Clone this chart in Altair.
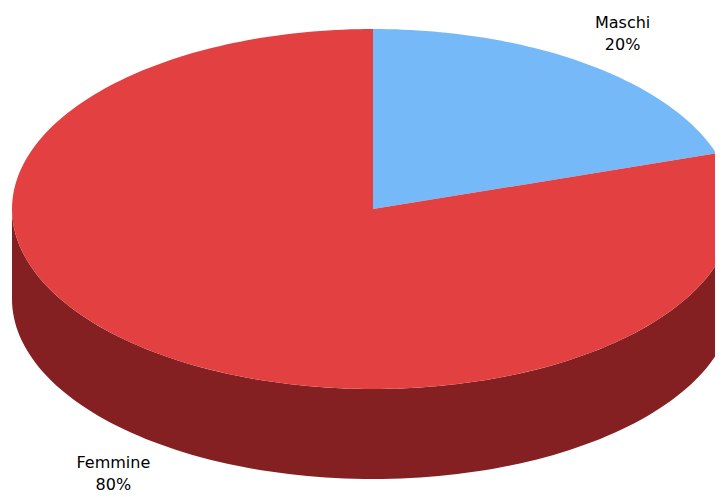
import math
import altair as alt
import pandas as pd

# ---- data ----
categories = ["Maschi", "Femmine"]
percent = [20, 80]
top_colors = ["#76b9f8", "#e34141"]
side_colors = ["#7d1f21", "#852022"]

# ---- geometry constants (pie drawn in unit-radius space) ----
TILT = 180 / 361      # vertical squash of top face
DEPTH = 90 / 361      # thickness of the pie
W, H = 707, 489
PX = 361              # pixels per unit radius
CX, CY = 365, 201     # centre in view pixels
LABEL_R = 1.2
LINE = 22             # label line height in px
LABEL_MIN = (CY - H + 9 + LINE) / PX   # keep the lowest label inside the view

def pt(t, drop=0.0):
    return math.sin(t), math.cos(t) * TILT - drop

rows_top, rows_side, rows_lab = [], [], []
start = 0.0
for k, (cat, p) in enumerate(zip(categories, percent)):
    a0 = start / 100 * 2 * math.pi
    a1 = (start + p) / 100 * 2 * math.pi
    start += p
    n = max(8, int(p * 3))
    # top face wedge
    poly = [(0.0, 0.0)] + [pt(a0 + (a1 - a0) * i / n) for i in range(n + 1)] + [(0.0, 0.0)]
    for i, (x, y) in enumerate(poly):
        rows_top.append({"cat": cat, "x": x, "y": y, "i": i})
    # visible front wall part: angles between 90 and 270 degrees
    f0, f1 = max(a0, math.pi / 2), min(a1, 3 * math.pi / 2)
    if f1 > f0:
        m = 120
        ts = [f0 + (f1 - f0) * i / m for i in range(m + 1)]
        wall = [pt(t) for t in ts] + [pt(t, DEPTH) for t in reversed(ts)]
        wall.append(wall[0])
        for i, (x, y) in enumerate(wall):
            rows_side.append({"cat": cat + " side", "x": x, "y": y, "i": i})
    mid = (a0 + a1) / 2
    lx, ly = pt(mid)
    lx *= LABEL_R
    ly *= LABEL_R
    if math.cos(mid) < 0:
        ly -= DEPTH
    ly += (LINE / 2) / PX        # y refers to the first line of the label
    ly = max(ly, LABEL_MIN)
    rows_lab.append({"cat": cat, "x": lx, "y": ly, "label": f"{cat}\n{p}%"})

top_df = pd.DataFrame(rows_top)
side_df = pd.DataFrame(rows_side)
lab_df = pd.DataFrame(rows_lab)

xs = alt.Scale(domain=[-CX / PX, (W - CX) / PX], nice=False, zero=False)
ys = alt.Scale(domain=[(CY - H) / PX, CY / PX], nice=False, zero=False)
X = alt.X("x:Q", scale=xs, axis=None)
Y = alt.Y("y:Q", scale=ys, axis=None)

side = alt.Chart(side_df).mark_line(filled=True, strokeWidth=0, clip=True).encode(
    x=X, y=Y, order="i:Q",
    color=alt.Color("cat:N", scale=alt.Scale(domain=[c + " side" for c in categories], range=side_colors), legend=None),
)
top = alt.Chart(top_df).mark_line(filled=True, strokeWidth=0.5, clip=True).encode(
    x=X, y=Y, order="i:Q",
    color=alt.Color("cat:N", scale=alt.Scale(domain=categories, range=top_colors), legend=None),
)
labels = alt.Chart(lab_df).mark_text(
    font="DejaVu Sans", fontSize=16, lineHeight=LINE, lineBreak="\n",
    align="center", baseline="middle", color="#000000", dx=-5,
).encode(x=X, y=Y, text="label:N")

chart = alt.layer(side, top, labels).resolve_scale(color="independent").properties(
    width=W, height=H, padding=0, autosize=alt.AutoSizeParams(type="none"),
).configure_view(stroke=None)

chart.save("out.html", embed_options={"renderer": "svg", "actions": False})
